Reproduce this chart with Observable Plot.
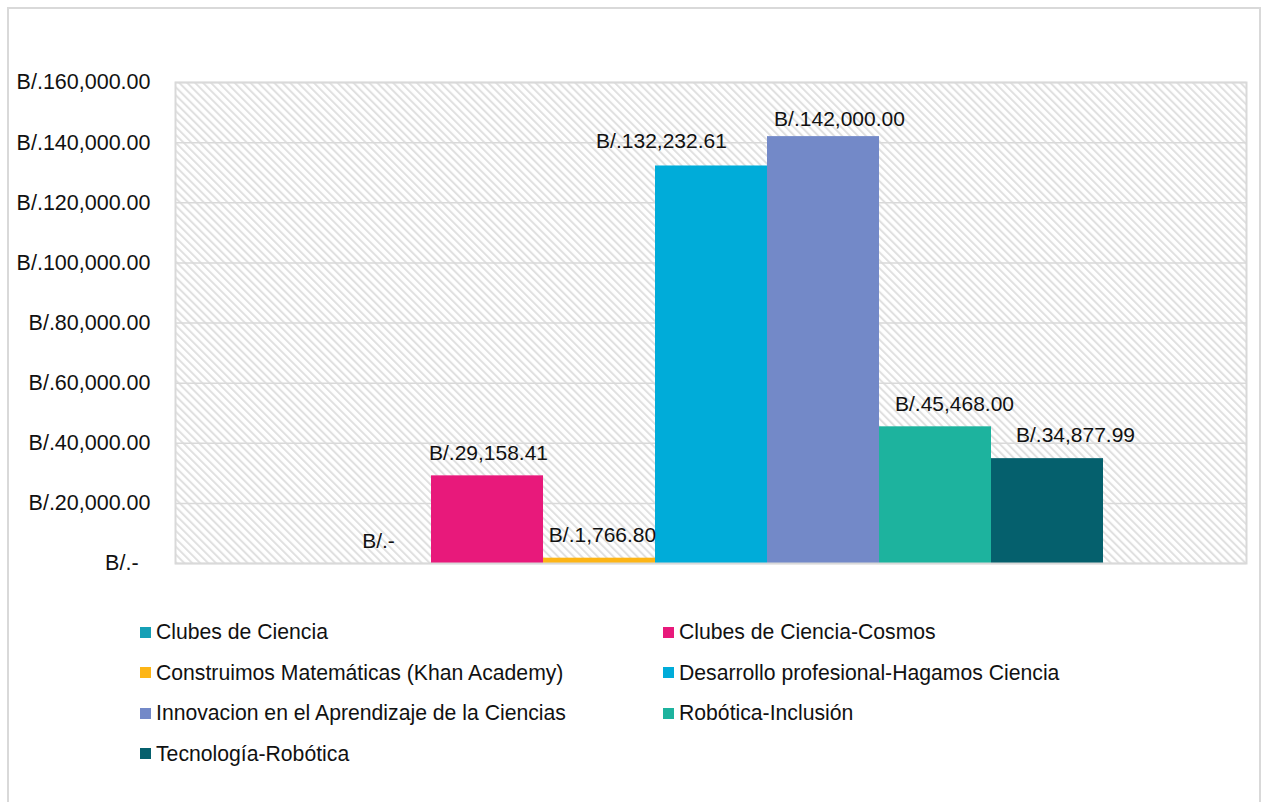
<!DOCTYPE html>
<html><head><meta charset="utf-8">
<script src="https://cdn.jsdelivr.net/npm/d3@7"></script>
<script src="https://cdn.jsdelivr.net/npm/@observablehq/plot@0.6"></script>
<style>
html,body{margin:0;padding:0;background:#fff;}
body{width:1264px;height:802px;overflow:hidden;position:relative;font-family:"Liberation Sans",Arial,sans-serif;color:#111;}
#border{position:absolute;left:7px;top:7px;width:1250px;height:820px;border:2px solid #d9d9d9;pointer-events:none;}
#chart svg{display:block;}
#legend{display:grid;grid-template-columns:523px 560px;grid-auto-rows:40.5px;margin-left:140px;padding-top:22px;font-size:21.2px;}
.item{display:flex;align-items:center;white-space:nowrap;}
.sw{width:11px;height:11px;margin-right:5px;flex:none;}
</style>
</head><body>
<div id="chart"></div>
<div id="legend"></div>
<div id="border"></div>
<script>
// ---- data ----
const programs = [
  "Clubes de Ciencia",
  "Clubes de Ciencia-Cosmos",
  "Construimos Matemáticas (Khan Academy)",
  "Desarrollo profesional-Hagamos Ciencia",
  "Innovacion en el Aprendizaje de la Ciencias",
  "Robótica-Inclusión",
  "Tecnología-Robótica"
];
const amounts = [0, 29158.41, 1766.80, 132232.61, 142000.00, 45468.00, 34877.99];
const yTicks = [0, 20000, 40000, 60000, 80000, 100000, 120000, 140000, 160000];

// ---- styling ----
const colors = ["#16a0b6", "#e8197b", "#fdb516", "#00acd9", "#7389c8", "#1db39e", "#05606d"];
const labelNudgeX = [3, 1, 3, -50, 16, 19, 28];
const labelNudgeY = [-22, -23, -23, -25, -17, -23, -23];

const data = programs.map((name, i) => ({name, value: amounts[i], i}));
const fmtVal = v => v === 0 ? "B/.-" : "B/." + d3.format(",.2f")(v);
const fmtTick = v => v === 0 ? "B/.-\u00a0\u00a0" : "B/." + d3.format(",.2f")(v);

const grid = "#d9d9d9";
const labelMarks = data.map(d => Plot.text([d], {
  x: "name", y: "value", text: r => fmtVal(r.value),
  dx: labelNudgeX[d.i], dy: labelNudgeY[d.i],
  fontSize: 21, fill: "#111", lineAnchor: "middle"
}));

const chart = Plot.plot({
  width: 1264,
  height: 590,
  marginLeft: 175,
  marginRight: 18,
  marginTop: 82,
  marginBottom: 27,
  style: {fontFamily: "'Liberation Sans', Arial, sans-serif", fontSize: "21px", color: "#111", background: "transparent"},
  x: {type: "band", domain: programs, paddingInner: 0, paddingOuter: 1.25, axis: null},
  y: {domain: [0, 160000], axis: null},
  color: {domain: programs, range: colors},
  marks: [
    Plot.frame({fill: "url(#hatch)", stroke: null}),
    Plot.ruleY(yTicks, {stroke: grid, strokeWidth: 1.5}),
    Plot.barY(data, {x: "name", y: "value", fill: "name"}),
    Plot.frame({stroke: grid, strokeWidth: 2}),
    ...labelMarks,
    Plot.axisY(yTicks, {tickSize: 0, tickPadding: 25, tickFormat: fmtTick, fontSize: 21.5, fill: "#111", label: null})
  ]
});

// hatch pattern
const ns = "http://www.w3.org/2000/svg";
const defs = document.createElementNS(ns, "defs");
const pat = document.createElementNS(ns, "pattern");
pat.setAttribute("id", "hatch");
pat.setAttribute("patternUnits", "userSpaceOnUse");
pat.setAttribute("width", "5.6");
pat.setAttribute("height", "5.6");
pat.setAttribute("patternTransform", "rotate(-45)");
const bg = document.createElementNS(ns, "rect");
bg.setAttribute("width", "5.6"); bg.setAttribute("height", "5.6"); bg.setAttribute("fill", "#ffffff");
const st = document.createElementNS(ns, "rect");
st.setAttribute("width", "2"); st.setAttribute("height", "5.6"); st.setAttribute("fill", "#e0e0e0");
pat.appendChild(bg); pat.appendChild(st);
defs.appendChild(pat);
chart.insertBefore(defs, chart.firstChild);

document.getElementById("chart").appendChild(chart);

// legend
const leg = document.getElementById("legend");
programs.forEach((p, i) => {
  const it = document.createElement("div");
  it.className = "item";
  const sw = document.createElement("span");
  sw.className = "sw";
  sw.style.background = colors[i];
  const tx = document.createElement("span");
  tx.textContent = p;
  it.appendChild(sw); it.appendChild(tx);
  leg.appendChild(it);
});
</script>
</body></html>
